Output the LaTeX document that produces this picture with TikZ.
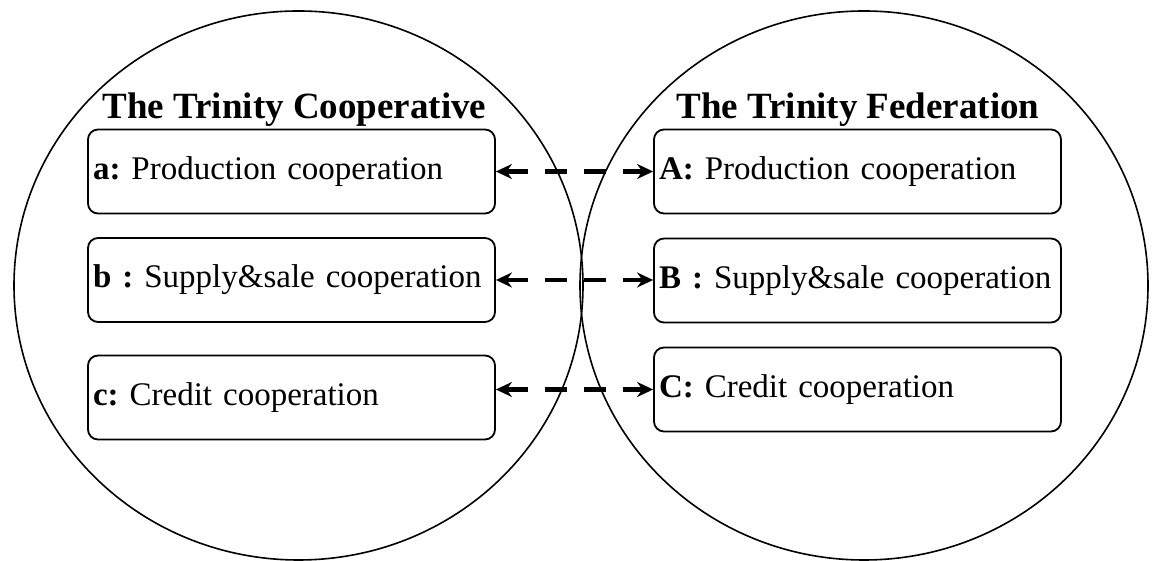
\documentclass[tikz,border=0pt]{standalone}
\usepackage{fontspec}
\setmainfont{Liberation Serif}
\usetikzlibrary{arrows.meta}
\frenchspacing

\tikzset{
  coop/.style={draw, line width=1.8pt, rounded corners=10pt, minimum height=84pt,
    text width=397pt, inner xsep=5pt, align=left,
    font=\fontsize{33}{38}\selectfont},
  heading/.style={anchor=base, font=\fontsize{37}{42}\selectfont\bfseries},
  link/.style={<->, >={Stealth[length=16pt,width=15pt]}, line width=4.5pt,
    dash pattern=on 22pt off 17pt}
}

\begin{document}
\begin{tikzpicture}[x=10pt,y=10pt]
                  \useasboundingbox (0,0) rectangle (115.4,56.1);

                  \draw[line width=1.6pt] (29.85,27.55) ellipse (28.45 and 27.45); %left
                  \draw[line width=1.6pt] (86.4,27.55) ellipse (28.4 and 27.45); %right

                  \node[heading] (coop) at (29.45,44.2) {The Trinity Cooperative};
                  \node[heading] (fed) at (85.8,44.2) {The Trinity Federation};

                  \node[coop] (a) at (29.15,38.95) {\textbf{a:} Production cooperation};
                  \node[coop] (b) at (29.15,28.1) {\textbf{b :} Supply\&sale cooperation};
                  \node[coop] (c) at (29.15,16.35) {\textbf{c:} Credit cooperation};

                  \node[coop] (A) at (85.75,38.95) {\textbf{A:} Production cooperation};
                  \node[coop] (B) at (85.75,28.05) {\textbf{B :} Supply\&sale cooperation};
                  \node[coop] (C) at (85.75,17.15) {\textbf{C:} Credit cooperation};

                  \draw[link] (a.east) -- (A.west);
                  \draw[link] (b.east) -- (b.east -| B.west);
                  \draw[link] (c.east |- C.west) -- (C.west);
              \end{tikzpicture}
\end{document}
